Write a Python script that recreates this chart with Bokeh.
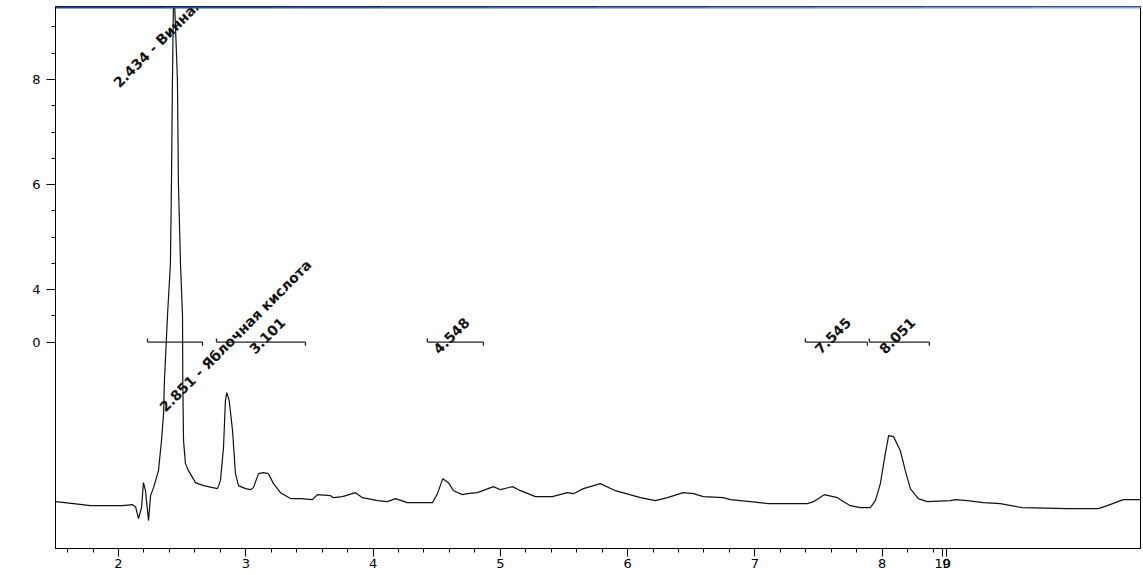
from bokeh.plotting import figure
from bokeh.models import (Range1d, FixedTicker, Label, BoxAnnotation)
from bokeh.core.properties import value
from bokeh.embed import file_html
from bokeh.resources import INLINE

# ---- signal (time in min, detector response) ----
time = [1.505, 1.647, 1.780, 2.031, 2.110, 2.134, 2.157, 2.181, 2.196, 2.212,
        2.236, 2.252, 2.275, 2.314, 2.338, 2.354, 2.361, 2.385, 2.408, 2.416,
        2.424, 2.434, 2.463, 2.471, 2.487, 2.503, 2.505, 2.511, 2.526, 2.550,
        2.605, 2.668, 2.778, 2.801, 2.825, 2.840, 2.851, 2.870, 2.896, 2.919,
        2.943, 2.998, 3.037, 3.060, 3.100, 3.139, 3.178, 3.218, 3.273, 3.351,
        3.430, 3.524, 3.563, 3.666, 3.689, 3.760, 3.862, 3.917, 4.035, 4.113,
        4.176, 4.270, 4.467, 4.506, 4.548, 4.592, 4.632, 4.702, 4.742, 4.820,
        4.946, 5.001, 5.095, 5.158, 5.276, 5.409, 5.527, 5.574, 5.653, 5.786,
        5.904, 6.101, 6.218, 6.313, 6.438, 6.517, 6.595, 6.752, 6.808, 6.965,
        7.106, 7.412, 7.460, 7.545, 7.648, 7.750, 7.829, 7.907, 7.947, 7.986,
        8.025, 8.051, 8.090, 8.143, 8.182, 8.222, 8.284, 8.355, 8.536, 8.575,
        8.669, 8.795, 8.929, 9.101, 9.455, 9.698, 9.769, 9.895, 10.028]
signal = [-0.038, -0.076, -0.114, -0.114, -0.095, -0.133, -0.362, -0.152, 0.324, 0.171,
          -0.400, 0.076, 0.229, 0.552, 1.124, 1.638, 2.267, 3.500, 4.500, 6.000,
          8.000, 9.900, 8.000, 6.000, 4.500, 3.500, 2.267, 1.124, 0.686, 0.552,
          0.324, 0.267, 0.210, 0.362, 0.990, 1.886, 2.038, 1.886, 1.314, 0.495,
          0.267, 0.210, 0.190, 0.229, 0.495, 0.514, 0.495, 0.305, 0.133, 0.020,
          0.019, 0.000, 0.095, 0.076, 0.038, 0.057, 0.133, 0.038, -0.019, -0.038,
          0.019, -0.057, -0.057, 0.114, 0.400, 0.324, 0.171, 0.095, 0.114, 0.133,
          0.248, 0.190, 0.248, 0.171, 0.057, 0.057, 0.133, 0.114, 0.210, 0.305,
          0.171, 0.038, -0.019, 0.038, 0.133, 0.114, 0.057, 0.038, 0.000, -0.038,
          -0.076, -0.076, -0.038, 0.095, 0.038, -0.114, -0.152, -0.152, -0.019, 0.305,
          0.876, 1.219, 1.200, 0.933, 0.552, 0.210, 0.019, -0.038, -0.019, 0.000,
          -0.019, -0.057, -0.076, -0.152, -0.171, -0.171, -0.114, 0.000, 0.000]

# ---- peak labels ----
peak_times = [2.434, 2.851, 3.101, 4.548, 7.545, 8.051]
peak_labels = ["2.434 - Винная кислота", "2.851 - Яблочная кислота",
               "3.101", "4.548", "7.545", "8.051"]

# ---- integration baseline marks ----
base_start = [2.228, 2.770, 4.427, 7.397, 7.899]
base_end = [2.660, 3.469, 4.867, 7.884, 8.371]
base_level = 3.0

# ---- axis ticks ----
x_major = [2, 3, 4, 5, 6, 7, 8, 8.476, 8.504]
x_labels = {8.476: "10", 8.504: "9"}
x_minor = [1.6, 1.8, 2.2, 2.4, 2.6, 2.8, 3.2, 3.4, 3.6, 3.8, 4.2, 4.4, 4.6, 4.8,
           5.2, 5.4, 5.6, 5.8, 6.2, 6.4, 6.6, 6.8, 7.2, 7.4, 7.6, 7.8, 8.2, 8.4]
y_major = [3, 4, 6, 8]
y_labels = {3: "0"}
y_minor = [3.5, 4.5, 5, 5.5, 6.5, 7, 7.5, 8.5, 9]

FONT = "DejaVu Sans"

p = figure(width=1143, height=575, output_backend="svg", toolbar_location=None,
           x_range=Range1d(1.505, 10.03), y_range=Range1d(-0.93, 9.39),
           min_border_left=55, min_border_right=3, min_border_top=6,
           min_border_bottom=27)
p.grid.visible = False
p.outline_line_color = "black"
p.outline_line_width = 1
p.background_fill_color = "white"
p.border_fill_color = "white"

for ax in (p.xaxis[0], p.yaxis[0]):
    ax.axis_line_color = "black"
    ax.major_tick_line_color = "black"
    ax.minor_tick_line_color = "black"
    ax.major_tick_in = 0
    ax.minor_tick_in = 0
    ax.minor_tick_out = 4
    ax.major_label_text_font = FONT
    ax.major_label_text_font_size = "13px"
    ax.major_label_text_color = "black"

p.xaxis.ticker = FixedTicker(ticks=x_major, minor_ticks=x_minor)
p.xaxis.major_label_overrides = x_labels
p.xaxis.major_tick_out = 8
p.xaxis.major_label_standoff = 2
p.yaxis.ticker = FixedTicker(ticks=y_major, minor_ticks=y_minor)
p.yaxis.major_label_overrides = y_labels
p.yaxis.major_tick_out = 9
p.yaxis.major_label_standoff = 6

# signal trace
p.line(time, signal, line_color="#111111", line_width=1.2)

# baseline marks with end ticks
tick_h = 0.07
p.segment(x0=base_start, y0=[base_level] * len(base_start),
          x1=base_end, y1=[base_level] * len(base_end),
          line_color="#222222", line_width=1.3)
p.segment(x0=base_start, y0=[base_level] * len(base_start),
          x1=base_start, y1=[base_level + tick_h] * len(base_start),
          line_color="#222222", line_width=1.3)
p.segment(x0=base_end, y0=[base_level] * len(base_end),
          x1=base_end, y1=[base_level - tick_h] * len(base_end),
          line_color="#222222", line_width=1.3)

# rotated peak labels
label_x = [t + 0.068 for t in peak_times]
label_y = [9.16] + [3.12] * (len(peak_times) - 1)
p.text(x=label_x, y=label_y, text=peak_labels, angle=0.785398,
       text_align="center", text_baseline="middle",
       text_font=value(FONT), text_font_size="14px", text_font_style="bold",
       text_color="#111111")

# unit label
p.add_layout(Label(x=9.95, y=-1.27, text="min", text_align="center",
                   text_baseline="middle", text_font=FONT,
                   text_font_size="13px", text_color="black"))

# top blue window edge (gradient approximated by pieces; frame-relative screen units)
blues = ["#24448f", "#2c4d9a", "#3556a4", "#3f60ad", "#4a6ab5", "#5675bd",
         "#6280c4", "#6e8bcb", "#7a96d2", "#86a1d8"]
n = len(blues)
x_left, x_right = 0, 1086
w = (x_right - x_left) / n
for i, c in enumerate(blues):
    p.add_layout(BoxAnnotation(left=x_left + i * w, right=x_left + (i + 1) * w,
                               top=543, bottom=540,
                               left_units="screen", right_units="screen",
                               top_units="screen", bottom_units="screen",
                               fill_color=c, fill_alpha=1.0, line_color=None))

open("out.html", "w").write(file_html(p, INLINE))
